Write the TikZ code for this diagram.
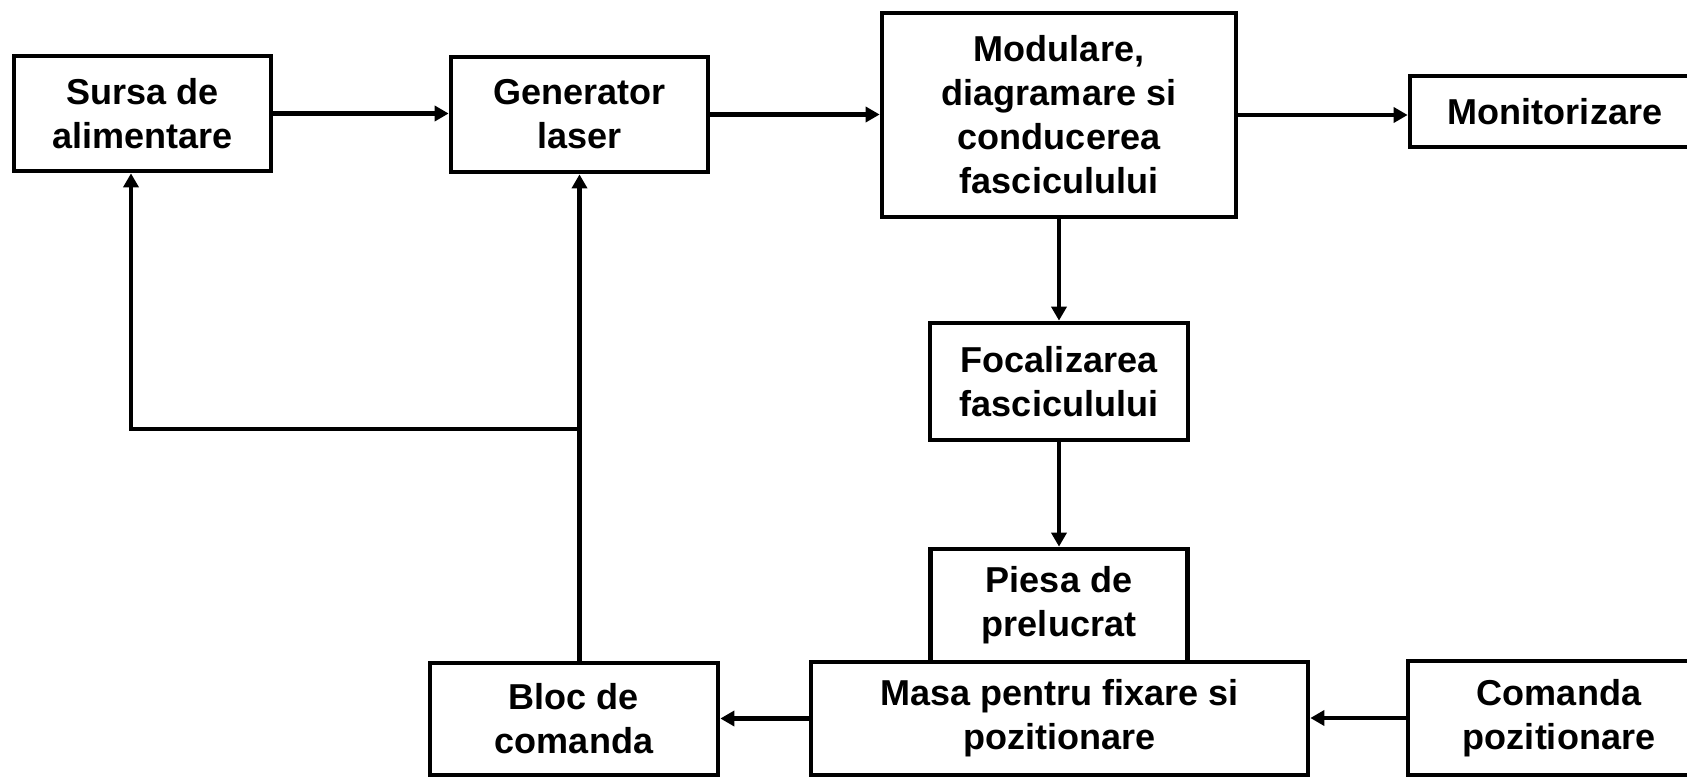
\documentclass[tikz,border=0pt]{standalone}
\usepackage{fontspec}
\setmainfont{Liberation Sans}
\usetikzlibrary{arrows.meta}
\begin{document}
\begin{tikzpicture}[x=0.02cm,y=-0.02cm,>={Triangle[length=0.28cm,width=0.3cm]},
  blok/.style={draw,line width=2.7pt,align=center,inner sep=0pt,
    font=\fontsize{20.5}{25}\selectfont\bfseries},
  leg/.style={->,line width=2.6pt}]
\clip (0,0) rectangle (1687,777);
\node[blok,minimum width=5.14cm,minimum height=2.3cm] (sursa) at (142.5,113.5){Sursa de\\alimentare};
\node[blok,minimum width=5.14cm,minimum height=2.3cm] (gen) at (579.5,114.5){Generator\\laser};
\node[blok,minimum width=7.08cm,minimum height=4.08cm] (mod) at (1059,115){Modulare,\\diagramare si\\conducerea\\fasciculului};
\node[blok,minimum width=5.8cm,minimum height=1.42cm] (monit) at (1555,111.5){Monitorizare};
\node[blok,minimum width=5.16cm,minimum height=2.34cm] (focal) at (1059,381.5){Focalizarea\\fasciculului};
\node[blok,minimum width=5.14cm,minimum height=2.26cm] (piesa) at (1059,605.5){Piesa de\\prelucrat};
\node[blok,minimum width=9.94cm,minimum height=2.26cm] (masa) at (1059.5,718.5){Masa pentru fixare si\\pozitionare};
\node[blok,minimum width=5.76cm,minimum height=2.24cm] (bloc) at (574,719){Bloc de\\comanda};
\node[blok,minimum width=6.04cm,minimum height=2.28cm] (cmd) at (1559,718){Comanda\\pozitionare};

\draw[leg](sursa.east)--(sursa.east -| gen.west);
\draw[leg](gen.east)--(gen.east -| mod.west);
\draw[leg](mod.east)--(mod.east -| monit.west);
\draw[leg](mod.south)--(focal.north);
\draw[leg](focal.south)--(piesa.north);
\draw[leg](cmd.west)--(cmd.west -| masa.east);
\draw[leg](masa.west)--(masa.west -| bloc.east);

\coordinate (nod) at (579.5,429);
\draw[leg](bloc.north -| gen.south)--(gen.south);
\draw[leg](nod)-|([xshift=-0.23cm]sursa.south);
\end{tikzpicture}
\end{document}
